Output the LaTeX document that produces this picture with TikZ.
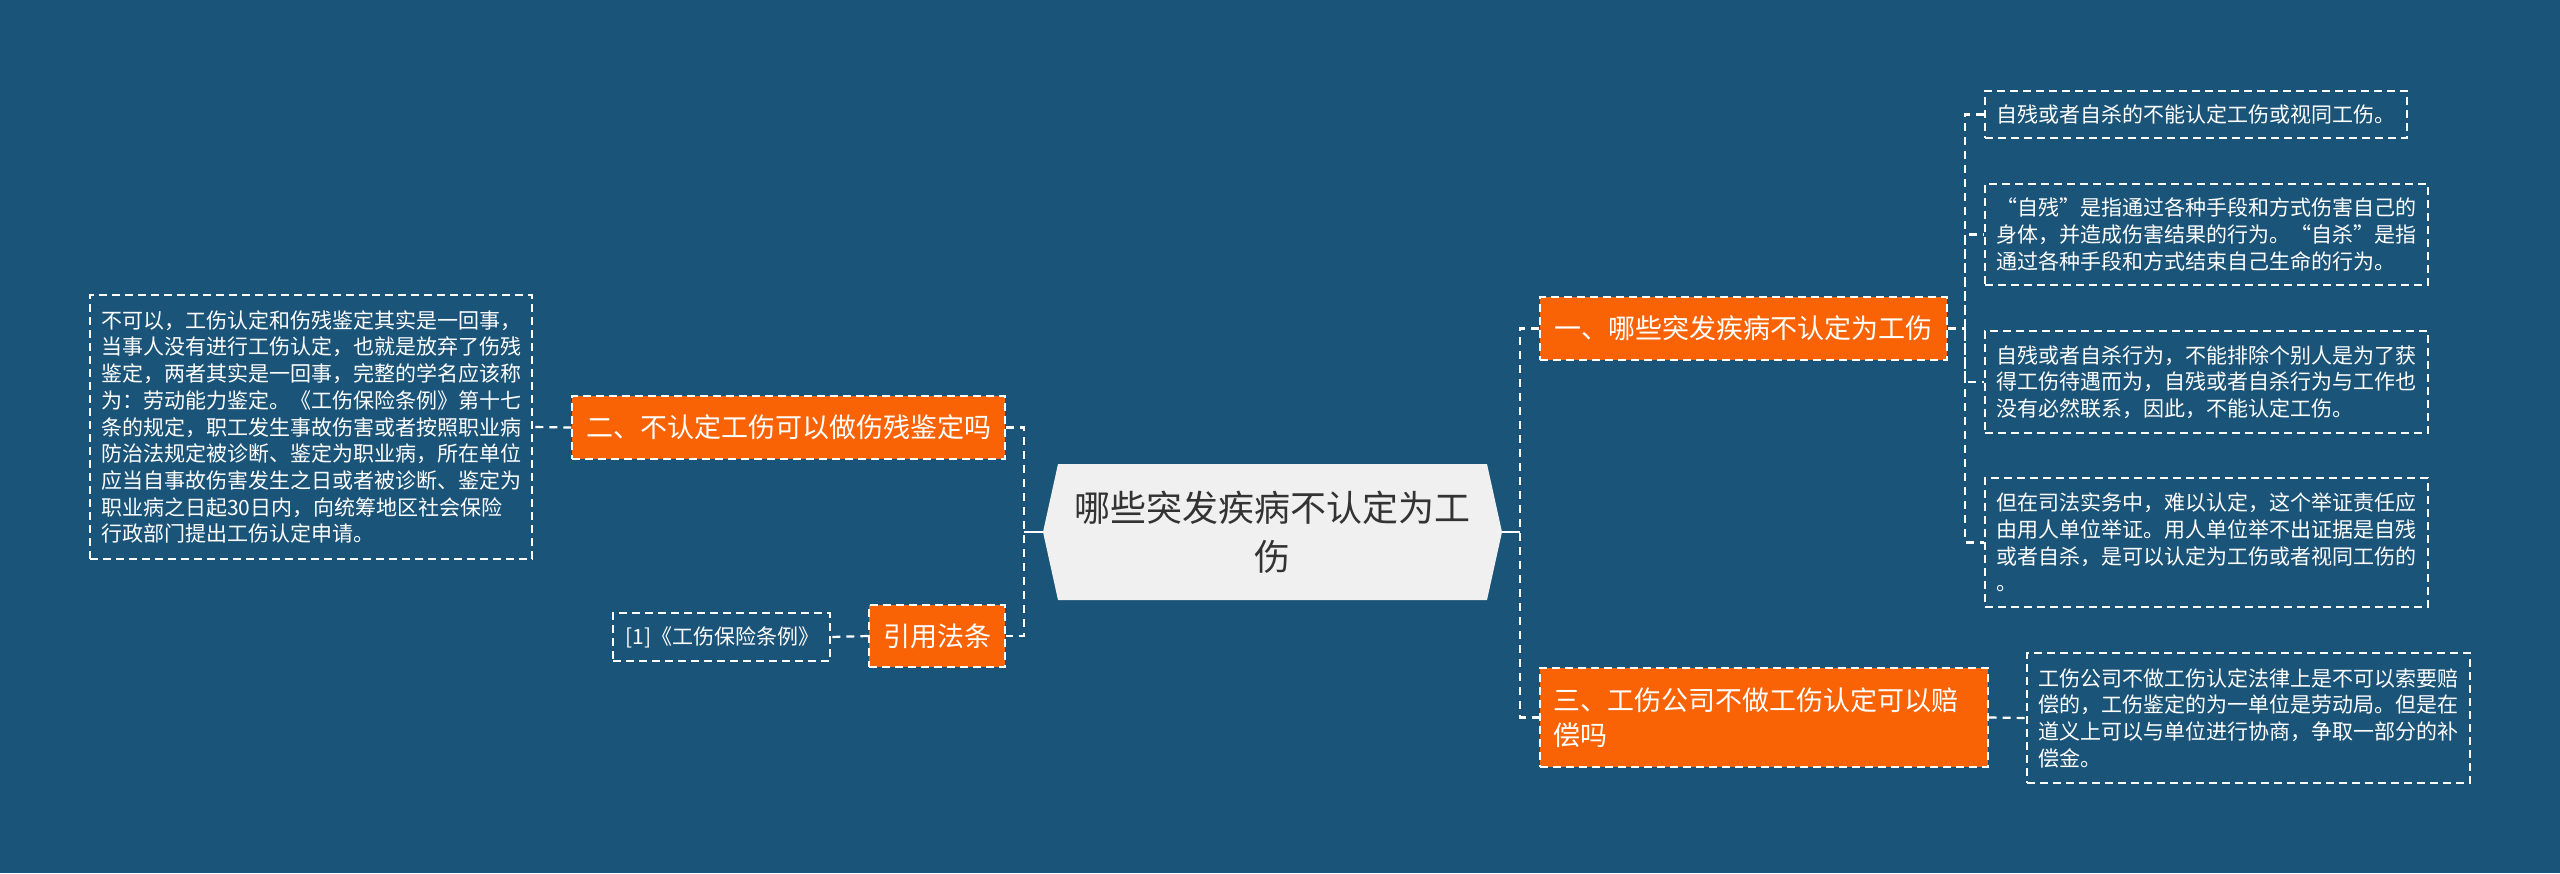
\documentclass[tikz,border=0pt]{standalone}
\usepackage{fontspec}
\setmainfont{Noto Sans CJK SC}
\definecolor{bgblue}{HTML}{1B5479}
\definecolor{orangefill}{HTML}{F96305}
\definecolor{centerfill}{HTML}{F0F0F0}
\definecolor{centertext}{HTML}{333333}
\tikzset{
  conn/.style={draw=white, line width=1.1pt, dash pattern=on 4pt off 3pt},
  txtbox/.style={draw=white, line width=0.7pt, dash pattern=on 4pt off 2.5pt, text=white,
    align=left, inner sep=0pt, font=\fontsize{10.5pt}{13.35pt}\selectfont},
  orbox/.style={fill=orangefill, draw=white, line width=0.7pt, dash pattern=on 4pt off 2.5pt,
    text=white, align=left, inner sep=0pt, font=\fontsize{13.5pt}{17.5pt}\selectfont},
}
\begin{document}
\begin{tikzpicture}[x=0.5pt,y=-0.5pt]
\fill[bgblue] (0,0) rectangle (2560,873);
\useasboundingbox (0,0) rectangle (2560,873);

% center node
\fill[centerfill] (1043,532) -- (1058,464) -- (1487,464) -- (1502,532) -- (1487,600) -- (1058,600) -- cycle;
\node[text=centertext, inner sep=0pt, minimum width=214.5pt, minimum height=68pt,
  align=center, font=\fontsize{18pt}{24.5pt}\selectfont] (C) at (1272.5,532)
  {哪些突发疾病不认定为工\\伤};
\coordinate (Cl) at ([xshift=-7.5pt]C.west);
\coordinate (Cr) at ([xshift=7.5pt]C.east);

% left side
\node[orbox, minimum width=216.5pt, minimum height=31.5pt, text width=202.5pt] (N2) at (788.5,427.5)
  {二、不认定工伤可以做伤残鉴定吗};
\node[orbox, minimum width=68pt, minimum height=31pt, text width=54pt] (Ref) at (937,636)
  {引用法条};
\node[txtbox, minimum width=108.5pt, minimum height=24pt, text width=96pt] (Cite) at (721.5,637)
  {[1]《工伤保险条例》};
\node[txtbox, minimum width=221pt, minimum height=132pt, text width=210pt] (L) at (311,427)
  {不可以，工伤认定和伤残鉴定其实是一回事，\\当事人没有进行工伤认定，也就是放弃了伤残\\鉴定，两者其实是一回事，完整的学名应该称\\为：劳动能力鉴定。《工伤保险条例》第十七\\条的规定，职工发生事故伤害或者按照职业病\\防治法规定被诊断、鉴定为职业病，所在单位\\应当自事故伤害发生之日或者被诊断、鉴定为\\职业病之日起30日内，向统筹地区社会保险\\行政部门提出工伤认定申请。};

% right side
\node[orbox, minimum width=203.5pt, minimum height=31.5pt, text width=189.5pt] (N1) at (1743.5,328.5)
  {一、哪些突发疾病不认定为工伤};
\node[orbox, minimum width=224pt, minimum height=49.5pt, text width=211pt] (N3) at (1764,717.5)
  {三、工伤公司不做工伤认定可以赔\\偿吗};

\node[txtbox, minimum width=211pt, minimum height=23.5pt, text width=200pt] (R1) at (2196,114.5)
  {自残或者自杀的不能认定工伤或视同工伤。};
\node[txtbox, minimum width=221.5pt, minimum height=50.5pt, text width=210pt] (R2) at (2206.5,234.5)
  {“自残”是指通过各种手段和方式伤害自己的\\身体，并造成伤害结果的行为。“自杀”是指\\通过各种手段和方式结束自己生命的行为。};
\node[txtbox, minimum width=221.5pt, minimum height=51pt, text width=210pt] (R3) at (2206.5,382)
  {自残或者自杀行为，不能排除个别人是为了获\\得工伤待遇而为，自残或者自杀行为与工作也\\没有必然联系，因此，不能认定工伤。};
\node[txtbox, minimum width=221.5pt, minimum height=64.5pt, text width=210pt] (R4) at (2206.5,542.5)
  {但在司法实务中，难以认定，这个举证责任应\\由用人单位举证。用人单位举不出证据是自残\\或者自杀，是可以认定为工伤或者视同工伤的\\。};
\node[txtbox, minimum width=221.5pt, minimum height=65pt, text width=210pt] (R5) at (2248.5,718)
  {工伤公司不做工伤认定法律上是不可以索要赔\\偿的，工伤鉴定的为一单位是劳动局。但是在\\道义上可以与单位进行协商，争取一部分的补\\偿金。};

% connectors
\coordinate (jL) at (1024,532);
\coordinate (jR) at (1520,532);
\coordinate (j1) at (1965,328.5);

\draw[conn] (N2.east) -| (jL) |- (Ref.east);
\draw[white, line width=1.1pt] (jL) -- (Cl);
\draw[conn] (N2.west) -- (L.east);
\draw[conn] (Ref.west) -- (Cite.east);

\draw[white, line width=1.1pt] (Cr) -- (jR);
\draw[conn] (N1.west) -| (jR) |- (N3.west);
\draw[conn] (N1.east) -- (j1);
\draw[conn] (R1.west) -| (j1) |- (R4.west);
\draw[conn] (j1) |- (R2.west);
\draw[conn] (j1) |- (R3.west);
\draw[conn] (N3.east) -- (R5.west);
\end{tikzpicture}
\end{document}
